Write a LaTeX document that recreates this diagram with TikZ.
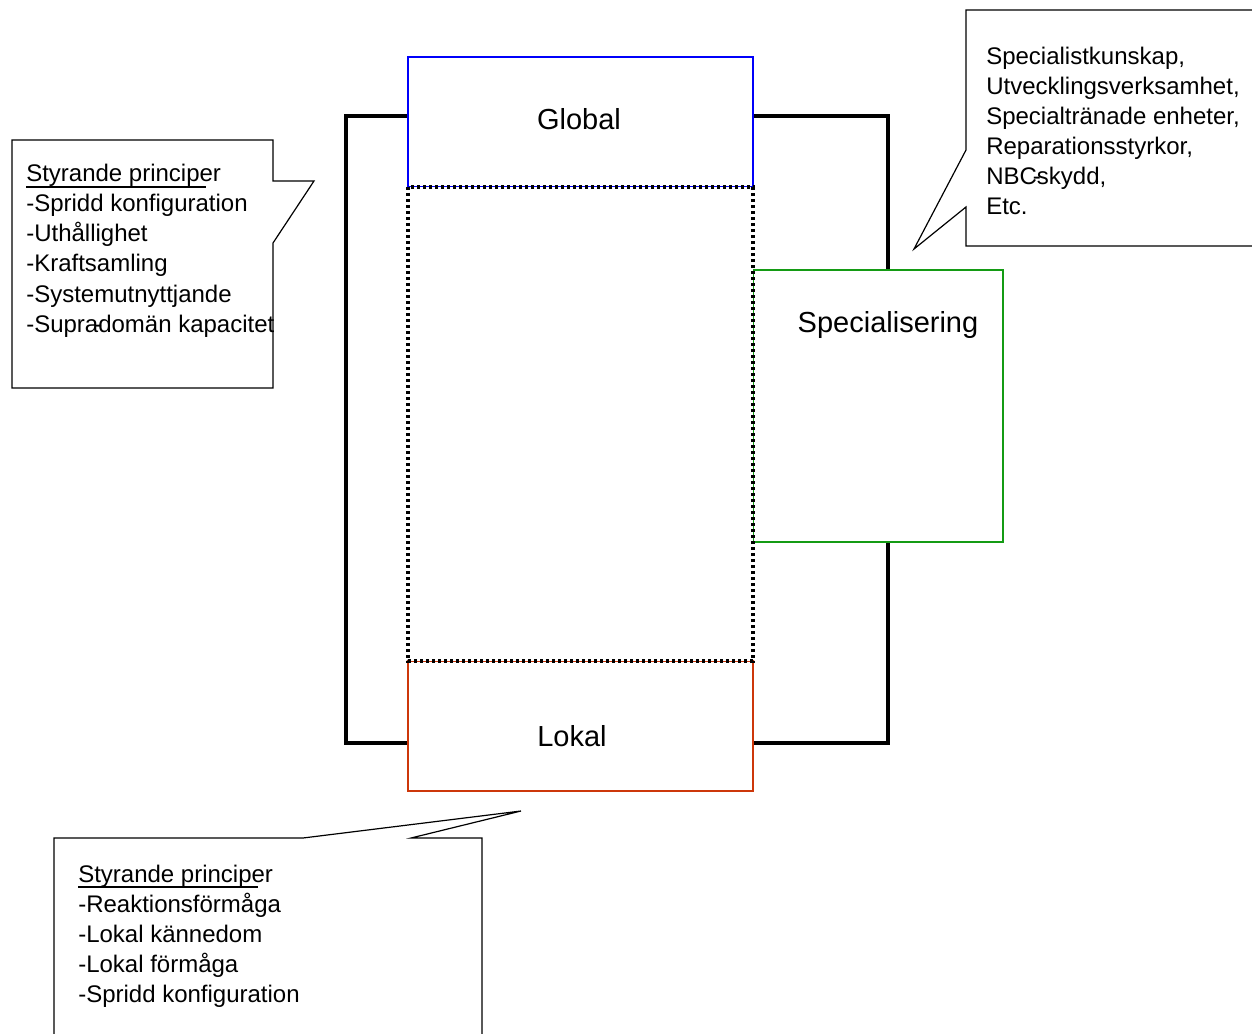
\documentclass[tikz,border=0pt]{standalone}
\usepackage{fontspec}
\setmainfont{Liberation Sans}
\newcommand\ulshort[1]{\setbox0\hbox{#1}\rlap{\rule[-4.6pt]{\dimexpr\wd0-11pt\relax}{1.3pt}}\box0}
\begin{document}
\begin{tikzpicture}[x=0.75pt,y=-0.75pt,
  frame/.style={line width=2.8pt,line join=miter},
  colbox/.style={line width=1.9pt,fill=white},
  dotbox/.style={line width=2.6pt,dash pattern=on 2.6pt off 1.9pt,fill=white},
  callout/.style={line width=0.9pt,fill=white},
  small/.style={font=\fontsize{18}{22}\selectfont,inner sep=0pt,anchor=base west},
  big/.style={font=\fontsize{21.75}{26}\selectfont,inner sep=0pt,anchor=base}]
\definecolor{gblue}{RGB}{0,0,250}
\definecolor{lred}{RGB}{205,55,10}
\definecolor{sgreen}{RGB}{20,155,20}
\useasboundingbox (0,0) rectangle (1252,1034);
% black outer frame
\draw[frame] (346,116) rectangle (888,743);
% specialisering box
\draw[colbox,draw=sgreen] (753,270) rectangle (1003,542);
% global and lokal boxes
\draw[colbox,draw=gblue] (408,57) rectangle (753,187);
\draw[colbox,draw=lred] (408,661) rectangle (753,791);
% dotted middle
\draw[dotbox] (408,187) rectangle (753,661);
% labels
\node[big] (global) at (579,130) {Global};
\node[big] (lokal) at (572,746) {Lokal};
\node[big] (spec) at (888,332) {Specialisering};
% left callout
\draw[callout] (12,140) -- (273,140) -- (273,181) -- (314,181) -- (273,243) -- (273,388) -- (12,388) -- cycle;
\node[small] (l1) at (26,182) {\ulshort{Styrande principer}};
\node[small] (l2) at (26,212) {-Spridd konfiguration};
\node[small] (l3) at (26,242) {-Uthållighet};
\node[small] (l4) at (26,272) {-Kraftsamling};
\node[small] (l5) at (26,302) {-Systemutnyttjande};
\node[small] (l6) at (26,332) {-Supra\makebox[0pt]{-}domän kapacitet};
% top right callout
\draw[callout] (1253,246) -- (966,246) -- (966,207) -- (914,249) -- (966,150) -- (966,10) -- (1253,10);
\node[small] (r1) at (986,65) {Specialistkunskap,};
\node[small] (r2) at (986,95) {Utvecklingsverksamhet,};
\node[small] (r3) at (986,125) {Specialtränade enheter,};
\node[small] (r4) at (986,155) {Reparationsstyrkor,};
\node[small] (r5) at (986,185) {NBC\makebox[0pt]{-}skydd,};
\node[small] (r6) at (986,215) {Etc.};
% bottom callout
\draw[callout] (54,1035) -- (54,838) -- (303,838) -- (521,811) -- (411,838) -- (482,838) -- (482,1035);
\node[small] (b1) at (78,882) {\ulshort{Styrande principer}};
\node[small] (b2) at (78,912) {-Reaktionsförmåga};
\node[small] (b3) at (78,942) {-Lokal kännedom};
\node[small] (b4) at (78,972) {-Lokal förmåga};
\node[small] (b5) at (78,1002) {-Spridd konfiguration};
\end{tikzpicture}
\end{document}
